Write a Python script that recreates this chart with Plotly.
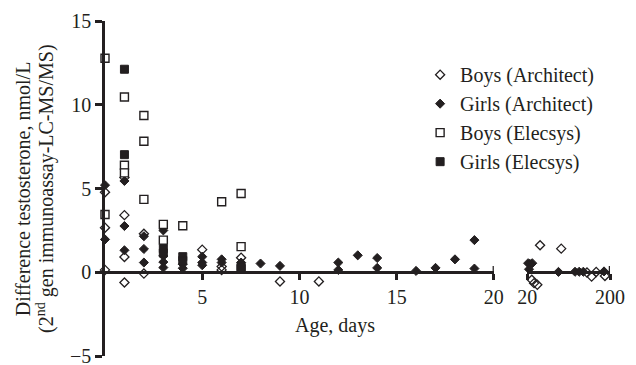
import plotly.graph_objects as go

# ---- data (age in days, difference in nmol/L) ----
boys_arch_x = [0, 0, 0, 1, 1, 1, 1, 2, 2, 5, 6, 6, 7, 9, 11]
boys_arch_y = [4.78, 2.66, 0.14, 5.65, 3.41, 0.91, -0.61, 2.3, -0.08, 1.35, 0.34, 0.14, 0.87, -0.55, -0.55]
boys_arch_x2 = [48, 94, 30, 35, 42, 150, 160, 170, 189]
boys_arch_y2 = [1.61, 1.41, -0.45, -0.65, -0.75, -0.02, -0.26, 0.02, -0.22]

girls_arch_x = [0, 0, 1, 1, 1, 2, 2, 2, 3, 3, 3, 3, 4, 4, 5, 5, 5, 6, 6, 7, 8, 9,
                12, 12, 13, 14, 14, 16, 17, 18, 19, 19]
girls_arch_y = [5.2, 1.96, 5.45, 2.76, 1.31, 2.15, 1.39, 0.58, 2.5, 0.97, 0.61, 0.28, 0.48, 0.24,
                0.93, 0.58, 0.42, 0.77, 0.58, 0.58, 0.52, 0.38,
                0.58, 0.14, 1.01, 0.85, 0.26, 0.08, 0.26, 0.77, 1.92, 0.22]
girls_arch_x2 = [22, 26, 31, 24, 88, 124, 133, 142, 187]
girls_arch_y2 = [0.54, 0.5, 0.54, 0.18, 0.02, 0.03, 0.03, 0.03, 0.05]

boys_elec_x = [0, 0, 1, 1, 1, 2, 2, 2, 3, 3, 4, 6, 7, 7, 7]
boys_elec_y = [12.78, 3.45, 10.46, 6.39, 5.93, 9.36, 7.82, 4.35, 2.86, 1.92, 2.78, 4.21, 4.7, 1.53, 0.2]

girls_elec_x = [1, 1, 3, 3, 4, 4, 7]
girls_elec_y = [12.12, 7.02, 1.41, 1.15, 0.93, 0.7, 0.34]

y_ticks = [-5, 0, 5, 10, 15]
x_ticks = [5, 10, 15, 20]
x2_ticks = [20, 200]

INK = "#231f20"
FONT = "Liberation Serif, Times New Roman, serif"

styles = {
    "Boys (Architect)": dict(symbol="diamond-open", size=7, color=INK, line=dict(width=1.3, color=INK)),
    "Girls (Architect)": dict(symbol="diamond", size=7, color=INK, line=dict(width=1, color=INK)),
    "Boys (Elecsys)": dict(symbol="square", size=8, color="white", line=dict(width=1.4, color=INK)),
    "Girls (Elecsys)": dict(symbol="square", size=8, color=INK, line=dict(width=1, color=INK)),
}

fig = go.Figure()

series = [
    ("Boys (Architect)", boys_arch_x, boys_arch_y, boys_arch_x2, boys_arch_y2),
    ("Girls (Architect)", girls_arch_x, girls_arch_y, girls_arch_x2, girls_arch_y2),
    ("Boys (Elecsys)", boys_elec_x, boys_elec_y, [], []),
    ("Girls (Elecsys)", girls_elec_x, girls_elec_y, [], []),
]

for name, xs, ys, xs2, ys2 in series:
    fig.add_trace(go.Scatter(x=xs, y=ys, mode="markers", name=name, legendgroup=name,
                             marker=styles[name], cliponaxis=False, xaxis="x", yaxis="y"))
    if xs2:
        fig.add_trace(go.Scatter(x=xs2, y=ys2, mode="markers", name=name, legendgroup=name,
                                 showlegend=False, marker=styles[name], cliponaxis=False,
                                 xaxis="x2", yaxis="y"))

axis_common = dict(showgrid=False, zeroline=False, showline=True, linecolor=INK, linewidth=2.5,
                   ticks="outside", tickcolor=INK, tickwidth=2.5,
                   automargin=False, ticklabeloverflow="allow",
                   tickfont=dict(family=FONT, size=20, color=INK))

# the page body adds an 8px offset, so the figure is 8px smaller and margins compensate
fig.update_layout(
    template="none",
    width=628, height=357,
    margin=dict(l=97, r=26, t=13, b=9, pad=0),
    paper_bgcolor="white", plot_bgcolor="white",
    font=dict(family=FONT, size=20, color=INK),
    xaxis=dict(domain=[0, 0.770], range=[0, 20], tickvals=x_ticks, anchor="free", position=0.25,
               ticklen=6, **axis_common),
    xaxis2=dict(domain=[0.836, 1], range=[20, 200], tickvals=x2_ticks, anchor="free", position=0.25,
                ticklen=6, **axis_common),
    yaxis=dict(domain=[0, 1], range=[-5, 15], tickvals=y_ticks, anchor="x", ticklen=7,
               **axis_common),
    legend=dict(x=0.624, y=0.898, xanchor="left", yanchor="top", bgcolor="rgba(0,0,0,0)",
                font=dict(family=FONT, size=20, color=INK), itemwidth=30, tracegroupgap=0),
    showlegend=True,
)

# end caps of the broken x axis (upper halves)
for xr, xv in [("x", 20), ("x2", 20), ("x2", 200)]:
    fig.add_shape(type="line", xref=xr, yref="y", x0=xv, x1=xv, y0=0, y1=0.37,
                  line=dict(color=INK, width=2.5))

fig.add_annotation(text="Difference testosterone, nmol/L", xref="paper", yref="paper",
                   x=-0.163, y=0.5, xanchor="center", yanchor="middle", textangle=-90,
                   showarrow=False, font=dict(family=FONT, size=20, color=INK))
fig.add_annotation(text="(2<sup>nd</sup> gen immunoassay-LC-MS/MS)", xref="paper", yref="paper",
                   x=-0.118, y=0.5, xanchor="center", yanchor="middle", textangle=-90,
                   showarrow=False, font=dict(family=FONT, size=20, color=INK))
fig.add_annotation(text="Age, days", xref="paper", yref="paper",
                   x=0.456, y=0.09, xanchor="center", yanchor="middle",
                   showarrow=False, font=dict(family=FONT, size=20, color=INK))

fig.write_html("out.html")
